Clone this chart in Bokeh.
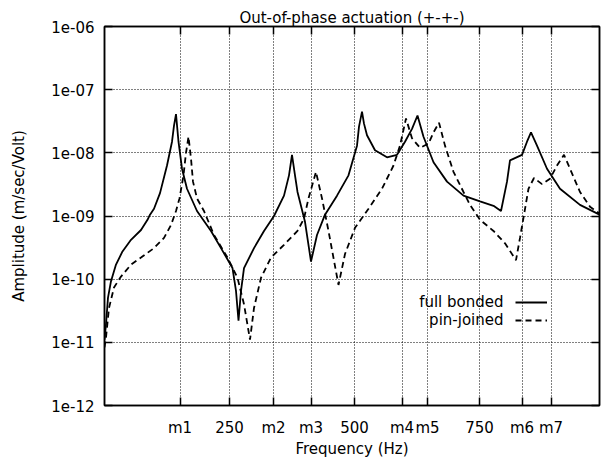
from bokeh.plotting import figure
from bokeh.models import (FixedTicker, LinearAxis, LogAxis, Legend, LegendItem,
                          Label, Range1d)
from bokeh.embed import file_html
from bokeh.resources import INLINE

FONT = "DejaVu Sans"

# ---- data -------------------------------------------------------------
freq_full = [0, 3, 7, 13, 23, 36, 53, 73, 86, 91, 99, 111, 125, 135, 139, 143,
             148, 155, 165, 185, 213, 233, 256, 263, 268, 273, 279, 299, 319, 339,
             359, 369, 375, 381, 386, 401, 413, 425, 441, 465, 488, 505, 509, 515,
             519, 525, 541, 565, 585, 601, 615, 626, 638, 658, 685, 718, 751, 778,
             793, 805, 811, 835, 845, 853, 865, 885, 911, 951, 990]
amp_full = [1.1e-11, 1.95e-11, 5.1e-11, 9.3e-11, 1.7e-10, 2.75e-10, 4.2e-10,
            6.0e-10, 8.7e-10, 1.05e-9, 1.3e-9, 2.3e-9, 6.3e-9, 1.5e-8, 2.7e-8,
            4.1e-8, 1.5e-8, 5.6e-9, 2.7e-9, 1.2e-9, 5.8e-10, 3.1e-10, 1.5e-10,
            6.5e-11, 2.2e-11, 6.5e-11, 1.5e-10, 3.1e-10, 5.8e-10, 1.0e-9,
            2.1e-9, 4.4e-9, 9.3e-9, 4.4e-9, 2.4e-9, 8.1e-10, 1.9e-10, 5.0e-10,
            1.05e-9, 2.1e-9, 4.4e-9, 1.3e-8, 2.6e-8, 4.5e-8,
            2.9e-8, 1.9e-8, 1.1e-8, 8.5e-9, 9.3e-9, 1.5e-8, 2.4e-8, 3.9e-8,
            1.8e-8, 7.1e-9, 3.5e-9, 2.1e-9, 1.7e-9, 1.45e-9,
            1.2e-9, 3.5e-9, 7.6e-9, 9.3e-9, 1.5e-8, 2.1e-8, 1.3e-8, 5.6e-9,
            2.7e-9, 1.5e-9, 1.05e-9]

freq_pin = [0, 3, 9, 19, 33, 53, 73, 99, 119, 133, 143, 150, 158, 163, 168, 173,
            177, 185, 199, 219, 246, 266, 279, 291, 299, 313, 333, 359, 386, 399,
            408, 423, 435, 448, 468, 481, 501, 528, 555, 578, 591, 603, 615, 631,
            648, 658, 669, 681, 698, 718, 731, 751, 778, 801, 815, 823, 831, 848,
            859, 875, 891, 905, 919, 931, 951, 971, 990]
amp_pin = [8.3e-12, 1.2e-11, 3.5e-11, 7.4e-11, 1.1e-10, 1.7e-10, 2.2e-10,
           3.1e-10, 4.5e-10, 7.2e-10, 1.2e-9, 1.9e-9, 4.4e-9, 1.0e-8, 1.8e-8,
           8.1e-9, 3.5e-9, 1.9e-9, 1.2e-9, 5.0e-10,
           2.2e-10, 1.05e-10, 4.0e-11, 1.1e-11, 3.5e-11, 1.05e-10, 2.2e-10,
           3.5e-10, 5.8e-10, 9.1e-10, 1.9e-9, 5.0e-9, 1.9e-9, 5.8e-10,
           8.1e-11, 2.5e-10, 6.5e-10, 1.3e-9, 2.7e-9, 6.3e-9, 1.3e-8, 3.5e-8,
           1.7e-8, 1.2e-8, 1.4e-8, 2.1e-8, 3.0e-8, 1.3e-8,
           5.0e-9, 2.4e-9, 1.5e-9, 8.7e-10, 5.8e-10, 3.7e-10, 2.5e-10, 2.0e-10,
           4.5e-10, 2.7e-9, 4.0e-9, 3.2e-9, 3.9e-9, 6.3e-9,
           9.3e-9, 5.6e-9, 2.4e-9, 1.4e-9, 1.1e-9]

x_ticks = [151, 250, 338, 413, 500, 595, 646, 750, 835, 893]
x_tick_labels = ["m1", "250", "m2", "m3", "500", "m4", "m5", "750", "m6", "m7"]
y_ticks = [1e-12, 1e-11, 1e-10, 1e-9, 1e-8, 1e-7, 1e-6]
y_tick_labels = ["1e-12", "1e-11", "1e-10", "1e-09", "1e-08", "1e-07", "1e-06"]

series_names = ["full bonded", "pin-joined"]
title_text = "Out-of-phase actuation (+-+-)"
x_label = "Frequency (Hz)"
y_label = "Amplitude (m/sec/Volt)"

# ---- figure -----------------------------------------------------------
p = figure(width=602, height=464, output_backend="svg", toolbar_location=None,
           y_axis_type="log", x_range=Range1d(0, 990), y_range=Range1d(1e-12, 1e-6),
           min_border_left=104, min_border_right=3, min_border_top=26,
           min_border_bottom=59, title=title_text)
p.background_fill_color = "white"
p.border_fill_color = "white"
p.outline_line_color = "black"
p.outline_line_width = 1.5

p.title.align = "center"
p.title.text_font = FONT
p.title.text_font_size = "15px"
p.title.text_font_style = "normal"
p.title.text_color = "black"
p.title.standoff = 0

xt = FixedTicker(ticks=x_ticks, minor_ticks=[])
yt = FixedTicker(ticks=y_ticks, minor_ticks=[])
xover = {t: l for t, l in zip(x_ticks, x_tick_labels)}
yover = {t: l for t, l in zip(y_ticks, y_tick_labels)}

xa = p.xaxis[0]
xa.ticker = xt
xa.major_label_overrides = xover
ya = p.yaxis[0]
ya.ticker = yt
ya.major_label_overrides = yover

for ax in (xa, ya):
    ax.major_tick_in = 8
    ax.major_tick_out = 0
    ax.minor_tick_line_color = None
    ax.major_tick_line_width = 1.5
    ax.axis_line_width = 1.5
    ax.major_label_text_font = FONT
    ax.major_label_text_font_size = "15px"
    ax.axis_label_text_font = FONT
    ax.axis_label_text_font_size = "15px"
    ax.axis_label_text_font_style = "normal"
    ax.major_label_text_color = "black"
    ax.axis_label_text_color = "black"

xa.axis_label = x_label
xa.major_label_standoff = 13
xa.axis_label_standoff = 0
ya.axis_label = y_label
ya.major_label_standoff = 10
ya.axis_label_standoff = 20

top_ax = LinearAxis(ticker=xt, major_label_overrides={t: "" for t in x_ticks},
                    major_tick_in=8, major_tick_out=0, major_tick_line_width=1.5,
                    minor_tick_line_color=None, axis_line_width=1.5,
                    major_label_standoff=8)
right_ax = LogAxis(ticker=yt, major_label_overrides={t: "" for t in y_ticks},
                   major_tick_in=8, major_tick_out=0, major_tick_line_width=1.5,
                   minor_tick_line_color=None, axis_line_width=1.5,
                   major_label_standoff=0)
p.add_layout(top_ax, "above")
p.add_layout(right_ax, "right")

for g in (p.xgrid[0], p.ygrid[0]):
    g.grid_line_color = "black"
    g.grid_line_dash = "1 2"
    g.grid_line_width = 1
p.xgrid[0].ticker = xt
p.ygrid[0].ticker = yt

r_full = p.line(freq_full, amp_full, line_color="black", line_width=1.8)
r_pin = p.line(freq_pin, amp_pin, line_color="black", line_width=1.8,
               line_dash="6 4")

legend = Legend(items=[LegendItem(label=" ", renderers=[r_full]),
                       LegendItem(label=" ", renderers=[r_pin])],
                location=(411, 77), padding=0, spacing=2, glyph_width=32,
                glyph_height=16, label_height=16, label_width=1,
                label_standoff=0, border_line_color=None,
                background_fill_alpha=0, label_text_font_size="15px")
p.add_layout(legend)

for name, yv in zip(series_names, [4.35e-11, 2.22e-11]):
    p.add_layout(Label(x=798, y=yv, text=name, text_align="right",
                       text_baseline="middle", text_font=FONT,
                       text_font_size="15px", text_color="black"))

open("out.html", "w").write(file_html(p, INLINE))
